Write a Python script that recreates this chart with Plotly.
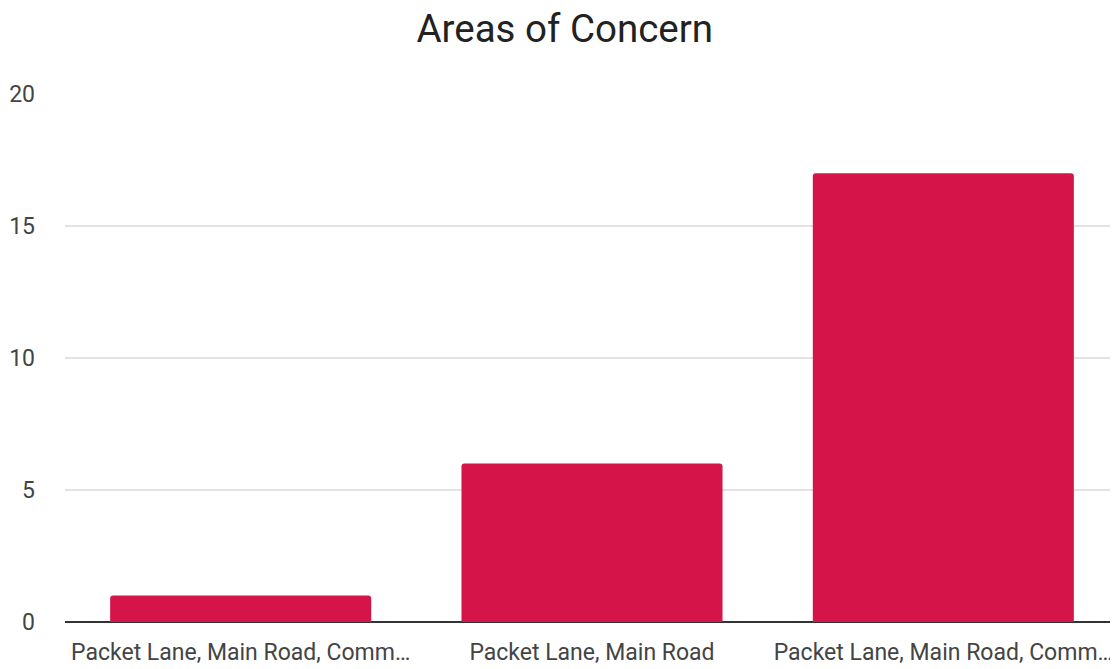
import plotly.graph_objects as go

tick_labels = ["Packet Lane, Main Road, Comm…", "Packet Lane, Main Road", "Packet Lane, Main Road, Comm…"]
values = [1, 6, 17]
y_ticks = [0, 5, 10, 15, 20]

positions = list(range(len(tick_labels)))

fig = go.Figure(go.Bar(
    x=positions, y=values,
    marker=dict(color="#D5144A", line=dict(width=0)),
))

fig.update_layout(
    width=1118, height=669,
    paper_bgcolor="white", plot_bgcolor="white",
    font=dict(family="Roboto", color="#444"),
    title=dict(text="Areas of Concern", x=0.498, xanchor="center", y=0.97, yanchor="middle",
               font=dict(family="Roboto", size=38.5, color="#222")),
    margin=dict(l=57, r=7, t=86, b=55),
    bargap=0.257,
    barcornerradius=3,
    showlegend=False,
    xaxis=dict(tickvals=positions, ticktext=tick_labels, range=[-0.5, 2.5],
               showgrid=False, zeroline=False, showline=False, automargin=False,
               tickfont=dict(size=23, color="#444"), ticks="", ticklabelstandoff=14),
    yaxis=dict(range=[0, 20], tickvals=y_ticks, showgrid=True, gridcolor="#E3E3E3", gridwidth=1.5,
               zeroline=True, zerolinecolor="#333", zerolinewidth=2, automargin=False,
               tickfont=dict(size=23, color="#444"), ticks="", ticklabelstandoff=29),
)

fig.write_html("out.html")
